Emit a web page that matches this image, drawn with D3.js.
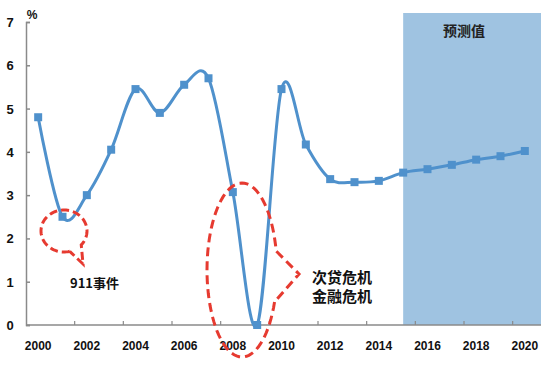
<!DOCTYPE html>
<html><head><meta charset="utf-8">
<script src="https://cdn.jsdelivr.net/npm/d3@7"></script>
<style>body{margin:0;background:#fff}svg{display:block}</style>
</head><body>
<svg id="c" width="550" height="365"></svg>
<script>
const years = ["2000","2001","2002","2003","2004","2005","2006","2007","2008","2009","2010","2011","2012","2013","2014","2015","2016","2017","2018","2019","2020"];
const growth = [4.8,2.5,3.0,4.05,5.45,4.9,5.55,5.7,3.07,0.0,5.45,4.17,3.37,3.3,3.33,3.52,3.6,3.7,3.82,3.9,4.02];
const yTicks = [0,1,2,3,4,5,6,7];
const xTickLabels = ["2000","2002","2004","2006","2008","2010","2012","2014","2016","2018","2020"];
const forecastStart = "2015";
const forecastLabel = "预测值";
const unitLabel = "%";
const note1 = ["911事件"];
const note2 = ["次贷危机","金融危机"];

const svg = d3.select("#c");
const x = d3.scaleBand().domain(years).range([26,537]);
const y = d3.scaleLinear().domain([0,7]).range([325,22]);
const cx = d => x(d) + x.bandwidth()/2;
const lineColor = "#4f91cc";
const font = "'Liberation Sans', Arial, sans-serif";
const cjk = "'Noto Sans CJK SC', sans-serif";

// forecast shade
svg.append("rect")
  .attr("x", cx(forecastStart)).attr("y", 13)
  .attr("width", 541 - cx(forecastStart)).attr("height", y(0) - 13)
  .attr("fill", "#9fc3e1");
svg.append("text").attr("x", 464).attr("y", 36).attr("text-anchor","middle")
  .attr("font-family", cjk).attr("font-weight","bold").attr("font-size",14).attr("fill","#222")
  .text(forecastLabel);

// axes
const yAxis = d3.axisRight(y).tickValues(yTicks).tickSize(4).tickFormat("");
const gy = svg.append("g").attr("transform","translate(26,0)").call(yAxis);
gy.selectAll("path,line").attr("stroke","#8a8a8a").attr("stroke-width",1.5);
svg.append("g").selectAll("text").data(yTicks).join("text")
  .attr("x", 10).attr("y", d => y(d) + 5).attr("text-anchor","middle")
  .attr("font-family", font).attr("font-weight","bold").attr("font-size",13).attr("fill","#111")
  .text(d => d);
svg.append("text").attr("x", 32).attr("y", 19).attr("text-anchor","middle")
  .attr("font-family", font).attr("font-weight","bold").attr("font-size",12).attr("fill","#111").text(unitLabel);

// x axis baseline & ticks at category boundaries every 2
const gx = svg.append("g");
gx.append("line").attr("x1",26).attr("x2",541).attr("y1",y(0)).attr("y2",y(0))
  .attr("stroke","#8a8a8a").attr("stroke-width",1.5);
const boundaries = d3.range(2, years.length, 2).map(i => x(years[i]));
gx.selectAll("line.t").data(boundaries).join("line").attr("class","t")
  .attr("x1", d => d).attr("x2", d => d).attr("y1", y(0)).attr("y2", y(0) - 4)
  .attr("stroke","#8a8a8a").attr("stroke-width",1.2);
gx.selectAll("text").data(xTickLabels).join("text")
  .attr("x", d => cx(d)).attr("y", 350).attr("text-anchor","middle")
  .attr("font-family", font).attr("font-weight","bold").attr("font-size",12).attr("fill","#111")
  .text(d => d);

// line
const pts = years.map((d,i) => [cx(d), y(growth[i])]);
svg.append("path").attr("d", d3.line().curve(d3.curveCatmullRom.alpha(0))(pts))
  .attr("fill","none").attr("stroke", lineColor).attr("stroke-width",3);
svg.append("g").selectAll("rect").data(pts).join("rect")
  .attr("x", d => d[0]-4).attr("y", d => d[1]-4).attr("width",8).attr("height",8)
  .attr("fill", lineColor);

// callouts
function callout(c0, c1, rx, ry, a0, a1, tip) {
  const p = d3.path();
  const N = 80;
  for (let k = 0; k <= N; k++) {
    const a = a0 + (a1 - a0) * k / N;
    const px = c0 + rx * Math.cos(a), py = c1 + ry * Math.sin(a);
    if (k === 0) p.moveTo(px, py); else p.lineTo(px, py);
  }
  p.lineTo(tip[0], tip[1]);
  p.lineTo(c0 + rx * Math.cos(a0), c1 + ry * Math.sin(a0));
  return p.toString();
}
const red = "#e63a30";
svg.append("path").attr("d", callout(64, 231, 23, 21, Math.PI*0.42, Math.PI*2.23, [83, 264]))
  .attr("fill","none").attr("stroke",red).attr("stroke-width",3).attr("stroke-dasharray","8,4");
svg.append("path").attr("d", callout(242, 270, 35, 87, Math.PI*0.12, Math.PI*1.93, [299, 274]))
  .attr("fill","none").attr("stroke",red).attr("stroke-width",3).attr("stroke-dasharray","9,5");

svg.append("text").attr("x", 70).attr("y", 288)
  .attr("font-family", cjk).attr("font-weight","bold").attr("font-size",13).attr("fill","#111").text(note1[0]);
svg.selectAll("text.n2").data(note2).join("text").attr("class","n2")
  .attr("x", 312).attr("y", (d,i) => 283 + i*19)
  .attr("font-family", cjk).attr("font-weight","bold").attr("font-size",15).attr("fill","#111").text(d => d);
</script>
</body></html>
